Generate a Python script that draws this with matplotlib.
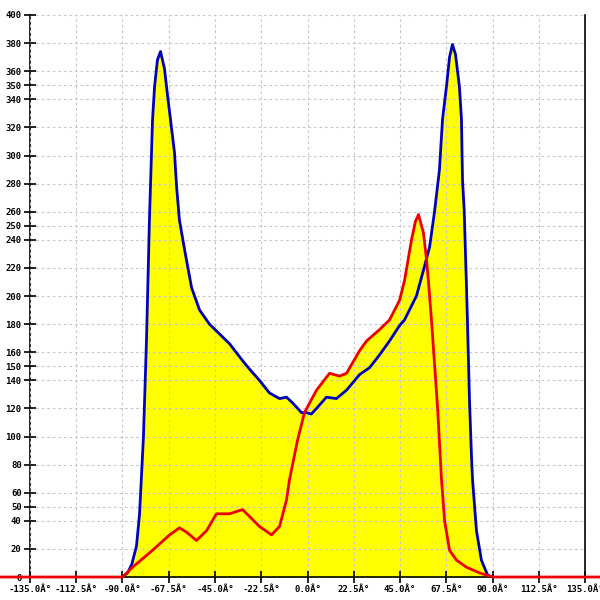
import matplotlib
matplotlib.use("Agg")
import matplotlib.pyplot as plt

# blue series (angle in degrees, count)
blue_x = [-90.0, -87.5, -85.5, -83.2, -81.7, -79.8, -78.3, -76.9, -75.4, -74.4, -73.0,
          -71.5, -69.6, -68.1, -66.6, -64.7, -63.7, -62.3, -59.8, -56.4,
          -52.5, -47.7, -37.9, -31.6, -28.2, -23.4, -18.5, -13.6, -10.2, -7.3,
          -2.9, -0.5, 1.9, 4.4, 9.2, 14.1, 19.0, 25.3, 30.2, 35.0,
          39.9, 44.8, 47.2, 53.0, 56.9, 59.4, 61.8, 64.2, 65.7, 67.6,
          69.1, 70.5, 72.0, 73.9, 74.9, 75.4, 76.2, 77.3, 77.8, 78.8,
          79.8, 80.3, 82.2, 84.6, 87.6, 90.0]
blue_y = [0, 3, 9, 22, 45, 100, 170, 254, 325, 349, 368,
          374, 362, 343, 325, 302, 278, 254, 233, 206,
          190, 180, 166, 154, 148, 140, 131, 127, 128, 124,
          117, 117, 116, 120, 128, 127, 133, 144, 149, 158,
          168, 179, 183, 200, 221, 235, 260, 290, 326, 349,
          370, 379, 372, 349, 326, 283, 262, 209, 183, 126,
          85, 69, 33, 12, 1.4, 0]

# red series
red_x = [-150.0, -90.0, -85.1, -75.4, -67.1, -62.3, -58.9, -54.0, -49.1, -44.3,
         -37.9, -31.6, -23.4, -17.5, -13.6, -10.2, -8.8, -4.9, -1.5, 4.4,
         10.7, 15.6, 19.0, 25.3, 28.7, 35.0, 39.9, 44.8, 47.2, 50.6,
         52.5, 54.0, 56.4, 57.9, 58.9, 60.3, 63.3, 65.2, 66.7, 69.1,
         72.5, 77.3, 83.6, 90.0, 150.0]
red_y = [0, 0, 7, 19, 30, 35, 32, 26, 33, 45,
         45, 48, 36, 30, 36, 55, 69, 97, 117, 133,
         145, 143, 145, 161, 168, 176, 183, 197, 211, 240,
         253, 258, 245, 226, 209, 183, 120, 69, 40, 19,
         12, 7, 3, 0, 0]

x_ticks = [-135.0, -112.5, -90.0, -67.5, -45.0, -22.5, 0.0, 22.5, 45.0, 67.5, 90.0, 112.5, 135.0]
y_ticks = [0, 20, 40, 50, 60, 80, 100, 120, 140, 150, 160, 180, 200, 220, 240, 250,
           260, 280, 300, 320, 340, 350, 360, 380, 400]

fig = plt.figure(figsize=(6, 6), dpi=100)
ax = fig.add_axes([0.05, 0.0383, 0.925, 0.9367])

ax.fill_between(blue_x, blue_y, 0, color="#ffff00", linewidth=0, zorder=1)
ax.fill_between(red_x, red_y, 0, color="#ffff00", linewidth=0, zorder=1)
ax.plot(blue_x, blue_y, color="#0000c0", linewidth=2, zorder=3)
ax.plot(red_x, red_y, color="#ee0000", linewidth=2, zorder=4, clip_on=False)

ax.set_xlim(-135, 135)
ax.set_ylim(0, 400)
ax.set_xticks(x_ticks)
ax.set_xticklabels([f"{t:.1f}Â°" for t in x_ticks])
ax.set_yticks(y_ticks)
ax.set_yticklabels([str(t) for t in y_ticks])

ax.set_axisbelow(False)
ax.grid(True, color="#c8c8c8", linestyle=(0, (2.5, 2.5)), linewidth=0.8, zorder=2)

for s in ["left", "right", "bottom"]:
    ax.spines[s].set_color("black")
    ax.spines[s].set_linewidth(1.2)
ax.spines["top"].set_visible(False)

ax.tick_params(direction="inout", length=8, width=1.2, labelsize=6.5, pad=2)
for lab in ax.get_xticklabels() + ax.get_yticklabels():
    lab.set_family("DejaVu Sans Mono")
    lab.set_weight("bold")

fig.savefig("out.png", dpi=100, facecolor="white")
